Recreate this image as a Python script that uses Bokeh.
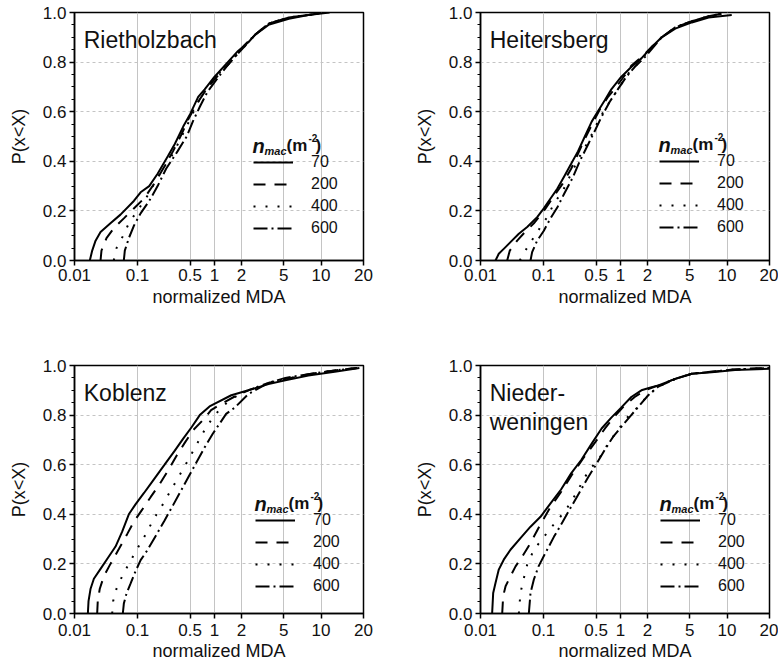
import math
from bokeh.plotting import figure
from bokeh.layouts import column, row
from bokeh.models import (ColumnDataSource, Range1d, FixedTicker, SingleIntervalTicker,
                          PrintfTickFormatter, CustomJSTickFormatter, CustomJSTransform,
                          Legend, LegendItem, Label)
from bokeh.transform import transform
from bokeh.embed import file_html
from bokeh.resources import INLINE

# ---------------- axis ticks ----------------
X_TICKS = [0.01, 0.1, 0.5, 1, 2, 5, 10, 20]
X_TICK_LABELS = ["0.01", "0.1", "0.5", "1", "2", "5", "10", "20"]
# relative position of each x tick along the (non-uniform) axis of the reference
X_TICK_FRAC = [0.0, 0.218, 0.400, 0.484, 0.578, 0.724, 0.853, 1.0]

SERIES = ["70", "200", "400", "600"]

# ---------------- data: normalized MDA vs P(x<X) ----------------
# Rietholzbach
riet_70_x = [0.0175, 0.0191, 0.0216, 0.0259, 0.0372, 0.0537, 0.0875, 0.110, 0.143, 0.185, 0.253, 0.313, 0.405, 0.50, 0.63, 0.758, 1.0, 1.41, 1.83, 2.32, 2.68, 3.59, 5.5, 7.9, 11.5]
riet_70_p = [0.0, 0.04, 0.08, 0.115, 0.15, 0.185, 0.24, 0.275, 0.30, 0.35, 0.42, 0.47, 0.54, 0.59, 0.66, 0.69, 0.74, 0.80, 0.845, 0.88, 0.91, 0.95, 0.975, 0.99, 1.0]
riet_200_x = [0.0259, 0.0268, 0.0322, 0.042, 0.0607, 0.0875, 0.122, 0.167, 0.229, 0.296, 0.386, 0.475, 0.60, 0.758, 1.0, 1.30, 1.68, 2.32, 2.68, 3.59, 5.5, 7.9, 10.5]
riet_200_p = [0.0, 0.04, 0.09, 0.13, 0.17, 0.21, 0.25, 0.31, 0.38, 0.44, 0.51, 0.57, 0.63, 0.68, 0.73, 0.775, 0.82, 0.88, 0.91, 0.955, 0.98, 0.99, 1.0]
riet_400_x = [0.042, 0.0464, 0.0592, 0.0728, 0.0988, 0.129, 0.167, 0.217, 0.296, 0.386, 0.50, 0.63, 0.83, 1.09, 1.41, 1.83, 2.32, 2.68, 3.59, 5.5, 7.9, 10.5]
riet_400_p = [0.0, 0.05, 0.10, 0.15, 0.20, 0.25, 0.31, 0.37, 0.43, 0.50, 0.57, 0.64, 0.70, 0.75, 0.79, 0.835, 0.88, 0.91, 0.955, 0.98, 0.99, 1.0]
riet_600_x = [0.0607, 0.0629, 0.0728, 0.0875, 0.110, 0.143, 0.185, 0.240, 0.34, 0.45, 0.54, 0.66, 0.82, 1.06, 1.35, 1.76, 2.15, 2.68, 3.59, 5.5, 7.9, 10.5]
riet_600_p = [0.0, 0.04, 0.09, 0.14, 0.19, 0.24, 0.30, 0.37, 0.44, 0.50, 0.56, 0.62, 0.68, 0.73, 0.78, 0.83, 0.87, 0.91, 0.955, 0.98, 0.99, 1.0]

# Heitersberg
heit_70_x = [0.0173, 0.0195, 0.0234, 0.0299, 0.0406, 0.0551, 0.0793, 0.101, 0.124, 0.153, 0.189, 0.233, 0.287, 0.354, 0.437, 0.534, 0.641, 0.772, 1.02, 1.32, 1.71, 2.18, 2.72, 3.65, 5.2, 7.1, 10.8]
heit_70_p = [0.0, 0.027, 0.047, 0.074, 0.108, 0.135, 0.175, 0.21, 0.25, 0.29, 0.34, 0.39, 0.44, 0.50, 0.56, 0.605, 0.646, 0.69, 0.74, 0.78, 0.815, 0.86, 0.90, 0.935, 0.96, 0.98, 0.99]
heit_200_x = [0.0265, 0.0292, 0.0382, 0.0488, 0.0703, 0.101, 0.138, 0.180, 0.233, 0.287, 0.354, 0.460, 0.558, 0.704, 0.887, 1.11, 1.32, 1.71, 2.18, 2.72, 3.65, 5.2, 7.1, 9.0]
heit_200_p = [0.0, 0.04, 0.08, 0.11, 0.15, 0.20, 0.26, 0.31, 0.37, 0.43, 0.49, 0.56, 0.61, 0.66, 0.70, 0.745, 0.785, 0.82, 0.86, 0.90, 0.94, 0.965, 0.985, 0.995]
heit_400_x = [0.042, 0.0537, 0.0703, 0.0896, 0.112, 0.138, 0.180, 0.233, 0.303, 0.394, 0.509, 0.641, 0.81, 1.02, 1.26, 1.57, 2.18, 2.72, 3.65, 5.2, 7.1, 9.0]
heit_400_p = [0.0, 0.047, 0.094, 0.135, 0.175, 0.23, 0.28, 0.35, 0.42, 0.48, 0.55, 0.61, 0.66, 0.71, 0.76, 0.795, 0.86, 0.90, 0.94, 0.965, 0.985, 0.995]
heit_600_x = [0.0622, 0.066, 0.0793, 0.101, 0.124, 0.153, 0.189, 0.245, 0.303, 0.394, 0.485, 0.585, 0.738, 0.93, 1.16, 1.44, 1.87, 2.72, 3.65, 5.2, 7.1, 9.0]
heit_600_p = [0.0, 0.034, 0.08, 0.12, 0.17, 0.215, 0.27, 0.335, 0.40, 0.47, 0.525, 0.58, 0.64, 0.69, 0.74, 0.78, 0.82, 0.90, 0.94, 0.965, 0.985, 0.995]

# Koblenz
kob_70_x = [0.0163, 0.0167, 0.018, 0.0203, 0.0259, 0.033, 0.0448, 0.0571, 0.0728, 0.0929, 0.122, 0.158, 0.195, 0.229, 0.313, 0.405, 0.524, 0.659, 0.871, 1.0, 1.54, 2.32, 3.59, 5.15, 7.9, 12.5, 18.7]
kob_70_p = [0.0, 0.05, 0.10, 0.14, 0.18, 0.22, 0.27, 0.33, 0.40, 0.44, 0.486, 0.533, 0.571, 0.60, 0.657, 0.705, 0.752, 0.80, 0.835, 0.845, 0.88, 0.90, 0.925, 0.94, 0.96, 0.975, 0.99]
kob_200_x = [0.0229, 0.0234, 0.0252, 0.0292, 0.0372, 0.0506, 0.0685, 0.0875, 0.116, 0.150, 0.195, 0.253, 0.329, 0.428, 0.548, 0.722, 0.91, 1.19, 1.68, 2.32, 3.59, 5.15, 7.9, 12.5, 18.0]
kob_200_p = [0.0, 0.05, 0.10, 0.15, 0.20, 0.26, 0.32, 0.37, 0.42, 0.47, 0.52, 0.575, 0.635, 0.69, 0.74, 0.78, 0.82, 0.845, 0.875, 0.90, 0.93, 0.945, 0.965, 0.98, 0.99]
kob_400_x = [0.0396, 0.0411, 0.0464, 0.0571, 0.0728, 0.0988, 0.129, 0.167, 0.217, 0.281, 0.366, 0.475, 0.60, 0.758, 0.955, 1.19, 1.54, 2.15, 3.59, 5.15, 7.9, 12.5, 18.0]
kob_400_p = [0.0, 0.05, 0.10, 0.15, 0.20, 0.26, 0.32, 0.385, 0.44, 0.50, 0.56, 0.62, 0.68, 0.74, 0.79, 0.83, 0.865, 0.895, 0.93, 0.945, 0.965, 0.98, 0.99]
kob_600_x = [0.0585, 0.0607, 0.0668, 0.0775, 0.0929, 0.110, 0.135, 0.176, 0.229, 0.296, 0.386, 0.475, 0.60, 0.758, 0.955, 1.14, 1.35, 1.68, 2.32, 3.59, 5.15, 7.9, 12.5, 18.0]
kob_600_p = [0.0, 0.04, 0.08, 0.12, 0.17, 0.215, 0.255, 0.315, 0.375, 0.436, 0.50, 0.55, 0.61, 0.67, 0.725, 0.765, 0.805, 0.83, 0.885, 0.93, 0.95, 0.965, 0.98, 0.99]

# Niederweningen
nied_70_x = [0.0153, 0.0159, 0.0173, 0.0195, 0.0234, 0.0299, 0.0431, 0.0622, 0.0896, 0.124, 0.171, 0.233, 0.319, 0.437, 0.585, 0.772, 1.02, 1.32, 1.71, 2.1, 2.53, 3.65, 5.2, 7.5, 11.4, 20.0]
nied_70_p = [0.0, 0.083, 0.123, 0.177, 0.217, 0.257, 0.304, 0.35, 0.39, 0.444, 0.50, 0.565, 0.62, 0.685, 0.746, 0.79, 0.83, 0.873, 0.90, 0.91, 0.92, 0.946, 0.967, 0.973, 0.982, 0.987]
nied_200_x = [0.0221, 0.0229, 0.025, 0.0299, 0.036, 0.046, 0.0622, 0.0896, 0.124, 0.171, 0.233, 0.336, 0.485, 0.641, 0.847, 1.11, 1.44, 1.87, 2.53, 3.65, 5.2, 7.5, 11.4, 20.0]
nied_200_p = [0.0, 0.07, 0.11, 0.15, 0.19, 0.23, 0.284, 0.36, 0.43, 0.49, 0.555, 0.625, 0.69, 0.745, 0.795, 0.838, 0.873, 0.90, 0.92, 0.946, 0.967, 0.975, 0.984, 0.99]
nied_400_x = [0.0406, 0.0431, 0.0488, 0.0551, 0.0703, 0.0955, 0.124, 0.162, 0.21, 0.273, 0.354, 0.437, 0.558, 0.704, 0.93, 1.16, 1.50, 1.95, 2.53, 3.65, 5.2, 7.5, 11.4, 20.0]
nied_400_p = [0.0, 0.083, 0.143, 0.197, 0.257, 0.30, 0.344, 0.384, 0.43, 0.485, 0.55, 0.59, 0.63, 0.685, 0.739, 0.786, 0.826, 0.873, 0.915, 0.946, 0.967, 0.975, 0.984, 0.99]
nied_600_x = [0.0585, 0.0622, 0.0703, 0.0834, 0.106, 0.138, 0.180, 0.233, 0.303, 0.394, 0.509, 0.641, 0.81, 1.02, 1.32, 1.64, 2.03, 2.53, 3.65, 5.2, 7.5, 11.4, 20.0]
nied_600_p = [0.0, 0.083, 0.137, 0.19, 0.244, 0.31, 0.37, 0.43, 0.49, 0.55, 0.605, 0.66, 0.712, 0.752, 0.80, 0.84, 0.88, 0.915, 0.946, 0.967, 0.975, 0.984, 0.99]

# ---------------- styling ----------------
FONT = "Liberation Sans"
DASHES = ["solid", "12 9", "2 10", "14 4 2 4"]

LOG_TICKS = [math.log10(t) for t in X_TICKS]
warp = CustomJSTransform(
    args=dict(lt=LOG_TICKS, fr=X_TICK_FRAC),
    func="""
        const l = Math.log10(x);
        let k = 0;
        while (k < lt.length - 2 && l > lt[k + 1]) { k++; }
        return fr[k] + (l - lt[k]) / (lt[k + 1] - lt[k]) * (fr[k + 1] - fr[k]);
    """,
    v_func="""
        const out = new Array(xs.length);
        for (let i = 0; i < xs.length; i++) {
            const l = Math.log10(xs[i]);
            let k = 0;
            while (k < lt.length - 2 && l > lt[k + 1]) { k++; }
            out[i] = fr[k] + (l - lt[k]) / (lt[k + 1] - lt[k]) * (fr[k + 1] - fr[k]);
        }
        return out;
    """)

FRAME_W, FRAME_H = 289, 248


def make_panel(title_lines, xs_list, ps_list, left_col, top_row, legend_loc):
    if left_col:
        w, bl, br = 388, 74, 25
    else:
        w, bl, br = 390, 92, 9
    if top_row:
        h, bt, bb = 320, 12, 60
    else:
        h, bt, bb = 348, 45, 55

    p = figure(width=w, height=h, output_backend="svg", toolbar_location=None,
               x_range=Range1d(0, 1), y_range=Range1d(0, 1),
               min_border_left=bl, min_border_right=br,
               min_border_top=bt, min_border_bottom=bb,
               background_fill_color="white", border_fill_color="white")
    p.outline_line_color = "black"
    p.outline_line_width = 1.5
    p.outline_line_alpha = 1.0

    # x axis
    p.xaxis.ticker = FixedTicker(ticks=X_TICK_FRAC, minor_ticks=[])
    p.xaxis.formatter = CustomJSTickFormatter(
        args=dict(fr=X_TICK_FRAC, labels=X_TICK_LABELS),
        code="""
            let b = 0;
            for (let i = 0; i < fr.length; i++) {
                if (Math.abs(fr[i] - tick) < Math.abs(fr[b] - tick)) { b = i; }
            }
            return labels[b];
        """)
    p.xaxis.axis_label = "normalized MDA"
    # y axis
    p.yaxis.ticker = SingleIntervalTicker(interval=0.2, num_minor_ticks=4)
    p.yaxis.formatter = PrintfTickFormatter(format="%.1f")
    p.yaxis.axis_label = "P(x<X)"

    for ax in (p.xaxis[0], p.yaxis[0]):
        ax.axis_line_width = 1.5
        ax.axis_line_color = "black"
        ax.major_tick_out = 5
        ax.major_tick_in = 0
        ax.major_tick_line_width = 1.5
        ax.minor_tick_in = 0
        ax.minor_tick_line_width = 1.2
        ax.major_label_text_font = FONT
        ax.major_label_text_font_size = "17px"
        ax.major_label_text_color = "#111111"
        ax.axis_label_text_font = FONT
        ax.axis_label_text_font_size = "18px"
        ax.axis_label_text_font_style = "normal"
        ax.axis_label_text_color = "#111111"
    p.xaxis.minor_tick_out = 0
    p.yaxis.minor_tick_out = 3
    p.yaxis.major_label_standoff = 3
    p.yaxis.axis_label_standoff = 11
    if top_row:
        p.xaxis.major_label_standoff = 3
        p.xaxis.axis_label_standoff = 3
    else:
        p.xaxis.major_label_standoff = 5
        p.xaxis.axis_label_standoff = 2

    p.xgrid.grid_line_color = "#c4c4c4"
    p.xgrid.grid_line_width = 1
    p.ygrid.grid_line_color = "#c4c4c4"
    p.ygrid.grid_line_width = 1
    p.ygrid.grid_line_dash = "3 3"

    items = []
    for lab, xs, ps, dash in zip(SERIES, xs_list, ps_list, DASHES):
        src = ColumnDataSource(dict(x=xs, p=ps))
        r = p.line(x=transform("x", warp), y="p", source=src, line_color="black",
                   line_width=2, line_dash=dash)
        items.append(LegendItem(label=lab, renderers=[r]))

    lx, ly = legend_loc
    legend = Legend(items=items, location=(lx, ly), orientation="vertical",
                    glyph_width=40, glyph_height=20, label_height=20,
                    spacing=2, padding=0, margin=0, label_standoff=18,
                    label_text_font=FONT, label_text_font_size="16px",
                    label_text_color="#111111",
                    border_line_alpha=0, background_fill_alpha=0)
    p.add_layout(legend)

    # legend title  n_mac(m^-2)
    base = (ly + 93) / FRAME_H
    parts = [
        ("n", -1, 0, "20px", "bold italic"),
        ("mac", 11, -5, "11px", "bold italic"),
        ("(m", 33, 0, "17px", "bold"),
        ("-2", 55, 8, "10px", "bold"),
        (")", 62, 0, "17px", "bold"),
    ]
    for txt, dx, dy, fs, st in parts:
        p.add_layout(Label(x=(lx + dx) / FRAME_W, y=base + dy / FRAME_H, text=txt,
                           text_font=FONT, text_font_size=fs, text_font_style=st,
                           text_color="#111111", text_baseline="alphabetic",
                           text_align="left"))

    # site name
    y0 = 0.89
    for i, line in enumerate(title_lines):
        p.add_layout(Label(x=0.032, y=y0 - i * 29 / FRAME_H, text=line,
                           text_font=FONT, text_font_size="23px",
                           text_color="#111111", text_baseline="alphabetic",
                           text_align="left"))
    return p


p1 = make_panel(["Rietholzbach"],
                [riet_70_x, riet_200_x, riet_400_x, riet_600_x],
                [riet_70_p, riet_200_p, riet_400_p, riet_600_p],
                True, True, (179, 22))
p2 = make_panel(["Heitersberg"],
                [heit_70_x, heit_200_x, heit_400_x, heit_600_x],
                [heit_70_p, heit_200_p, heit_400_p, heit_600_p],
                False, True, (179, 23))
p3 = make_panel(["Koblenz"],
                [kob_70_x, kob_200_x, kob_400_x, kob_600_x],
                [kob_70_p, kob_200_p, kob_400_p, kob_600_p],
                True, False, (181, 17))
p4 = make_panel(["Nieder-", "weningen"],
                [nied_70_x, nied_200_x, nied_400_x, nied_600_x],
                [nied_70_p, nied_200_p, nied_400_p, nied_600_p],
                False, False, (180, 17))

layout = column(row(p1, p2), row(p3, p4))
open("out.html", "w").write(file_html(layout, INLINE))
